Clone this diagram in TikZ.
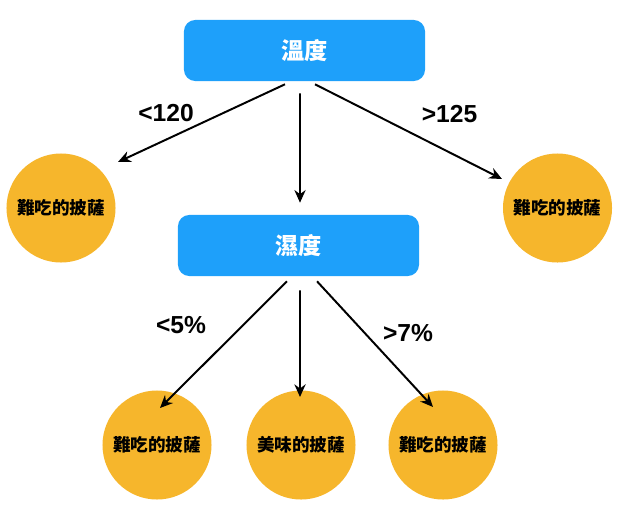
\documentclass[tikz,border=0pt]{standalone}
\usepackage{fontspec}
\setmainfont{Liberation Sans}
\newfontfamily\cjk{Noto Sans CJK TC}
\usetikzlibrary{arrows.meta, calc}
\definecolor{boxblau}{RGB}{30,160,250}
\definecolor{pizzagelb}{RGB}{246,182,44}
\tikzset{
  kasten/.style={fill=boxblau, rounded corners=8pt, minimum width=6.025cm,
    minimum height=1.525cm, text=white, font=\cjk\bfseries\fontsize{16.5}{18}\selectfont},
  pizza/.style={circle, fill=pizzagelb, minimum size=2.725cm, inner sep=0pt,
    font=\cjk\bfseries\fontsize{12.5}{14}\selectfont},
  pfeil/.style={-{Stealth[length=9pt,width=8pt]}, line width=1.4pt},
  wert/.style={font=\bfseries\fontsize{17.5}{20}\selectfont}
}

\begin{document}
\begin{tikzpicture}[x=0.025cm, y=-0.025cm]
  \useasboundingbox (0,0) rectangle (622,513);

  % Knoten
  \node[kasten] (temp) at (304.5,50.5) {溫度};
  \node[kasten] (feucht) at (298.5,245.5) {濕度};
  \node[pizza] (p1) at (61,208) {難吃的披薩};
  \node[pizza] (p2) at (557.5,208) {難吃的披薩};
  \node[pizza] (p3) at (157,445) {難吃的披薩};
  \node[pizza] (p4) at (301,445) {美味的披薩};
  \node[pizza] (p5) at (443,445) {難吃的披薩};

  % Pfeile
  \draw[pfeil] ($(temp.south)+(-19.5,3)$) -- ($(p1.center)+(57,-46)$);
  \draw[pfeil] ($(temp.south)+(-4.5,12)$) -- ($(feucht.north)+(1.5,-12)$);
  \draw[pfeil] ($(temp.south)+(10.5,3)$) -- ($(p2.center)+(-55.5,-29)$);
  \draw[pfeil] ($(feucht.south)+(-11.5,5)$) -- ($(p3.center)+(3,-37)$);
  \draw[pfeil] ($(feucht.south)+(1.5,14)$) -- ($(p4.center)+(-1,-48)$);
  \draw[pfeil] ($(feucht.south)+(18.5,5)$) -- ($(p5.center)+(-10,-38)$);

  % Beschriftungen
  \node[wert] (w1) at (166,113) {<120};
  \node[wert] (w2) at (449.5,114) {>125};
  \node[wert] (w3) at (181,325) {<5\%};
  \node[wert] (w4) at (408,333) {>7\%};
\end{tikzpicture}
\end{document}
